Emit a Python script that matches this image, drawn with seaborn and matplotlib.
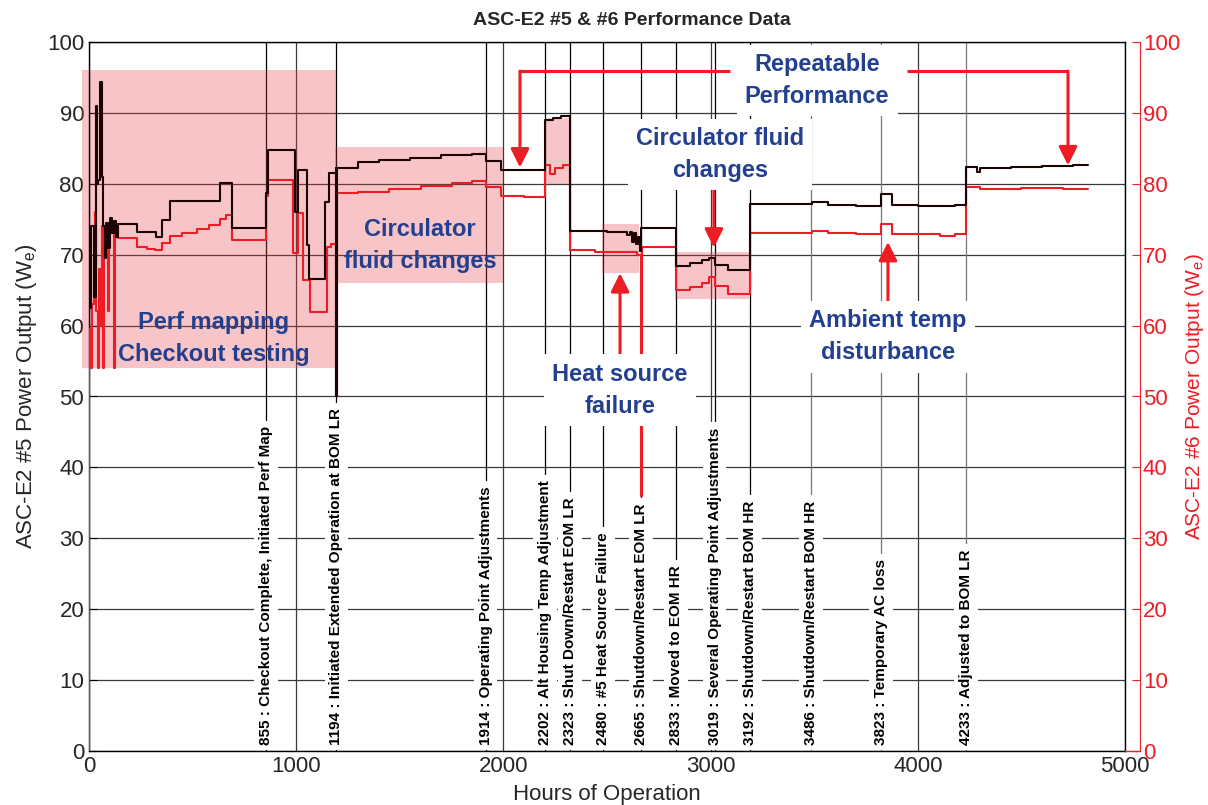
import matplotlib
matplotlib.use("Agg")
import matplotlib.pyplot as plt
import seaborn as sns
from matplotlib.lines import Line2D
from matplotlib.patches import Rectangle

# ASC-E2 #5 power output (steps), hours / watts
hours_5 = [0, 12, 25, 32, 38, 44, 55, 62, 68, 76, 84, 92, 100, 110, 120, 130, 140, 232, 323, 352, 391,
           632, 690, 855, 865, 994, 1010, 1052, 1062, 1139, 1160, 1190, 1194, 1197, 1298, 1400, 1550,
           1700, 1850, 1914, 1988, 2202, 2240, 2280, 2323, 2500, 2596, 2610, 2620, 2630, 2640, 2650,
           2658, 2665, 2833, 2900, 2960, 2990, 3019, 3084, 3192, 3489, 3567, 3700, 3823, 3875, 4000,
           4107, 4180, 4233, 4285, 4300, 4450, 4600, 4750, 4820]
power_5 = [62.5, 74.0, 64.0, 91.0, 80.0, 80.5, 94.3, 81.0, 74.0, 69.5, 74.5, 71.0, 75.2, 73.0, 74.8, 72.5,
           74.4, 73.2, 72.5, 74.9, 77.6, 80.1, 73.8, 78.7, 84.8, 76.0, 82.0, 71.4, 66.6, 77.4, 81.5, 82.2,
           50.0, 82.2, 83.1, 83.4, 83.7, 84.0, 84.2, 83.2, 81.9, 89.0, 89.3, 89.5, 73.3, 73.2, 72.8, 73.2,
           71.8, 73.0, 71.5, 72.5, 70.5, 73.8, 68.4, 68.8, 69.2, 69.5, 68.5, 67.8, 77.1, 77.4, 77.0, 76.9,
           78.5, 77.0, 76.9, 76.8, 77.0, 82.4, 81.7, 82.2, 82.3, 82.5, 82.6, 82.6]

# ASC-E2 #6 power output (steps)
hours_6 = [0, 2, 8, 14, 22, 28, 36, 42, 48, 56, 62, 68, 74, 82, 90, 98, 108, 120, 126, 140, 232, 280,
           320, 350, 390, 450, 520, 580, 632, 660, 690, 855, 862, 985, 1009, 1033, 1067, 1149, 1170,
           1194, 1197, 1300, 1450, 1600, 1750, 1850, 1914, 1988, 2100, 2202, 2225, 2250, 2290, 2323,
           2442, 2645, 2665, 2668, 2833, 2900, 2960, 2990, 3019, 3084, 3192, 3489, 3567, 3700, 3823,
           3875, 4000, 4107, 4180, 4233, 4300, 4500, 4700, 4820]
power_6 = [0.0, 59.5, 54.0, 63.0, 70.0, 76.0, 62.0, 54.0, 68.0, 60.0, 74.0, 54.0, 72.0, 74.0, 62.0, 74.0,
           73.0, 54.0, 73.0, 72.3, 71.1, 70.8, 70.6, 71.6, 72.6, 73.0, 73.6, 74.2, 75.0, 75.6, 72.1, 78.3,
           80.5, 70.2, 75.9, 66.5, 61.9, 71.1, 71.5, 50.0, 78.7, 78.9, 79.3, 79.7, 80.1, 80.4, 79.5, 78.3,
           78.1, 82.6, 81.4, 82.2, 82.7, 70.7, 70.4, 70.0, 36.0, 71.1, 65.0, 65.5, 66.0, 66.8, 65.6, 64.5,
           73.0, 73.4, 73.0, 72.9, 74.3, 72.9, 72.9, 72.7, 72.9, 79.5, 79.3, 79.4, 79.3, 79.3]

event_hours = [855, 1194, 1914, 2202, 2323, 2480, 2665, 2833, 3019, 3192, 3486, 3823, 4233]
event_labels = ["Checkout Complete, Initiated Perf Map", "Initiated Extended Operation at BOM LR",
                "Operating Point Adjustments", "Alt Housing Temp Adjustment", "Shut Down/Restart EOM LR",
                "#5 Heat Source Failure", "Shutdown/Restart EOM LR", "Moved to EOM HR",
                "Several Operating Point Adjustments", "Shutdown/Restart BOM HR",
                "Shutdown/Restart BOM HR", "Temporary AC loss", "Adjusted to BOM LR"]

# shaded periods: (start hour, end hour, low W, high W)
shade_x0 = [-33, 1187, 2200, 2476, 2828]
shade_x1 = [1190, 1998, 2318, 2655, 3185]
shade_y0 = [54.0, 66.0, 80.0, 67.4, 63.8]
shade_y1 = [96.0, 85.2, 89.3, 74.3, 70.4]

RED = "#ee1c25"
BLUE = "#23408e"
DARK = "#1c0303"

sns.set_style("white")
plt.rcParams["font.family"] = ["Liberation Sans", "DejaVu Sans"]
plt.rcParams["mathtext.fontset"] = "custom"
plt.rcParams["mathtext.rm"] = "Liberation Sans"
plt.rcParams["mathtext.default"] = "regular"

fig = plt.figure(figsize=(12.08, 8.05), dpi=100)
L, R, T, B = 89, 1125, 42, 751
ax = fig.add_axes([L / 1208, 1 - B / 805, (R - L) / 1208, (B - T) / 805])

ax.set_xlim(0, 5000)
ax.set_ylim(0, 100)
ax.set_xticks(range(0, 5001, 1000))
ax.set_yticks(range(0, 101, 10))
ax.set_xticks(event_hours, minor=True)
ax.grid(True, which="major", color="#3a3a3a", lw=0.9, zorder=0)
ax.tick_params(axis="both", which="major", direction="in", length=6, labelsize=16, color="black")
ax.tick_params(axis="x", which="minor", direction="in", length=5)
for s in ax.spines.values():
    s.set_color("black")
    s.set_linewidth(1.0)

# shaded regions
for x0, x1, y0, y1 in zip(shade_x0, shade_x1, shade_y0, shade_y1):
    ax.add_patch(Rectangle((x0, y0), x1 - x0, y1 - y0, facecolor="#e63c46", alpha=0.3,
                           edgecolor="none", zorder=2, clip_on=False))

# event lines and labels
for h, lab in zip(event_hours, event_labels):
    col = "#777777" if h in (3486, 3823, 4233) else "black"
    ax.axvline(h, color=col, lw=0.9, zorder=1.5)
    ax.text(h, 0.9, f"{h} : {lab}", rotation=90, ha="center", va="bottom", fontsize=11,
            fontweight="bold", color="black", zorder=6,
            bbox=dict(facecolor="white", edgecolor="none", pad=3.5))

sns.lineplot(x=hours_5, y=power_5, ax=ax, color=DARK, lw=1.5, drawstyle="steps-post",
             estimator=None, zorder=4)
sns.lineplot(x=hours_6, y=power_6, ax=ax, color=RED, lw=1.5, drawstyle="steps-post",
             estimator=None, zorder=3)

# arrows
arw = dict(arrowstyle="-|>", color=RED, lw=2.2, mutation_scale=28, shrinkA=0, shrinkB=0)
ax.plot([3094, 2080], [95.9, 95.9], color=RED, lw=2.2, zorder=5, solid_capstyle="butt")
ax.annotate("", xy=(2080, 82.3), xytext=(2080, 95.9), arrowprops=arw, zorder=5)
ax.plot([3948, 4725], [95.9, 95.9], color=RED, lw=2.2, zorder=5, solid_capstyle="butt")
ax.annotate("", xy=(4725, 82.6), xytext=(4725, 95.9), arrowprops=arw, zorder=5)
ax.annotate("", xy=(3016, 71.0), xytext=(3016, 79.5), arrowprops=arw, zorder=5)
ax.annotate("", xy=(2563, 67.4), xytext=(2563, 55.5), arrowprops=arw, zorder=5)
ax.annotate("", xy=(3856, 71.8), xytext=(3856, 62.5), arrowprops=arw, zorder=5)

# annotation texts
tkw = dict(ha="center", va="center", fontsize=17, fontweight="bold", color=BLUE, linespacing=1.5)
ax.text(600, 58.2, "Perf mapping\nCheckout testing", zorder=7, **tkw)
ax.text(1597, 71.3, "Circulator\nfluid changes", zorder=7, **tkw)
wbox = dict(facecolor="white", edgecolor="none", pad=6)
ax.text(3514, 94.6, "Repeatable\nPerformance", zorder=7, bbox=wbox, **tkw)
ax.text(3045, 84.1, "Circulator fluid\nchanges", zorder=7, bbox=wbox, **tkw)
ax.text(2563, 50.9, "Heat source\nfailure", zorder=7, bbox=wbox, **tkw)
ax.text(3856, 58.4, "Ambient temp\ndisturbance", zorder=7, bbox=wbox, **tkw)

ax.set_xlabel("Hours of Operation", fontsize=16, labelpad=5)
ax.set_ylabel("ASC-E2 #5 Power Output (W$_e$)", fontsize=16, labelpad=6)
ax.set_title("ASC-E2 #5 & #6 Performance Data", fontsize=14, fontweight="bold", pad=12, x=0.524)

# right axis for #6
ax2 = ax.twinx()
ax2.set_ylim(0, 100)
ax2.set_yticks(range(0, 101, 10))
for k in ("top", "left", "bottom"):
    ax2.spines[k].set_visible(False)
ax2.spines["right"].set_position(("outward", 10.8))
ax2.spines["right"].set_color(RED)
ax2.tick_params(axis="y", direction="in", length=6, colors=RED, labelsize=16, pad=2)
ax2.set_ylabel("ASC-E2 #6 Power Output (W$_e$)", fontsize=15, color=RED, labelpad=2)
fig.add_artist(Line2D([R / 1208, 1140 / 1208], [1 - B / 805] * 2, color=RED, lw=1.0))

fig.savefig("out.png", dpi=100)
